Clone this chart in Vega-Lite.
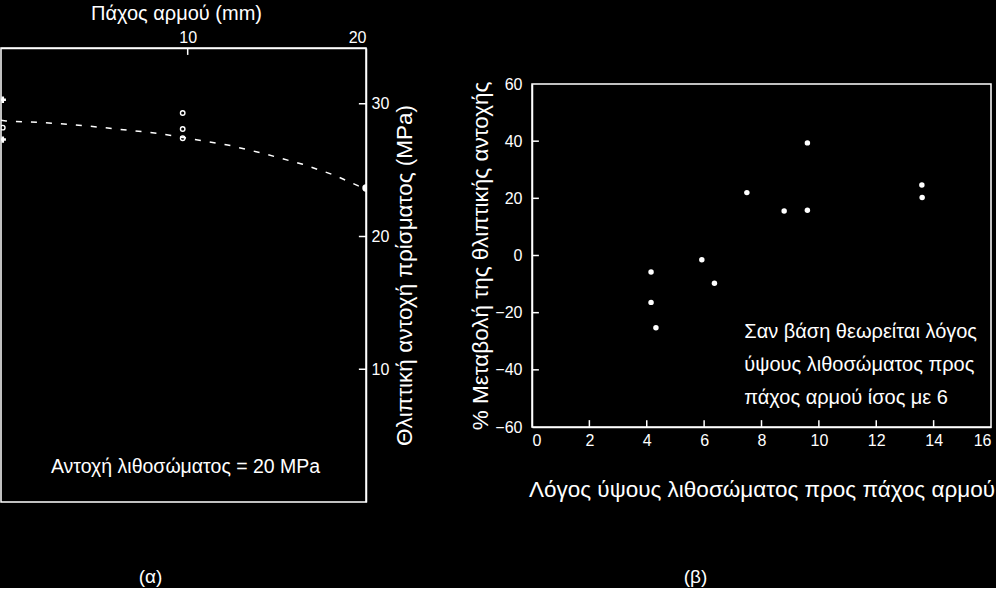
{
  "$schema": "https://vega.github.io/schema/vega-lite/v6.json",
  "background": "black",
  "padding": {"left": 0, "top": 2, "right": 0, "bottom": 0},
  "datasets": {
    "curve": [
      {"t": -0.47, "s": 28.75}, {"t": -0.19, "s": 28.7}, {"t": 1.59, "s": 28.6}, {"t": 3.36, "s": 28.45},
      {"t": 4.95, "s": 28.25}, {"t": 6.72, "s": 28.0}, {"t": 8.32, "s": 27.77}, {"t": 10, "s": 27.4},
      {"t": 12.24, "s": 26.9}, {"t": 14.3, "s": 26.24}, {"t": 16.45, "s": 25.44}, {"t": 18.19, "s": 24.64},
      {"t": 19.54, "s": 23.83}, {"t": 20, "s": 23.65}
    ],
    "alpha_filled": [
      {"t": -0.37, "s": 30.3, "kind": "cross"},
      {"t": -0.37, "s": 27.3, "kind": "cross"},
      {"t": 20, "s": 23.65, "kind": "circle"}
    ],
    "alpha_open": [
      {"t": -0.37, "s": 28.2},
      {"t": 9.72, "s": 29.3},
      {"t": 9.72, "s": 28.1},
      {"t": 9.72, "s": 27.4}
    ],
    "alpha_xticks": [{"v": 10, "a": 34.2, "b": 33.68}],
    "alpha_yticks": [{"v": 10, "a": 20, "b": 19.6}, {"v": 20, "a": 20, "b": 19.6}, {"v": 30, "a": 20, "b": 19.6}],
    "beta_xticks": [{"v": 2, "a": -60, "b": -57.6}, {"v": 4, "a": -60, "b": -57.6}, {"v": 6, "a": -60, "b": -57.6}, {"v": 8, "a": -60, "b": -57.6}, {"v": 10, "a": -60, "b": -57.6}, {"v": 12, "a": -60, "b": -57.6}, {"v": 14, "a": -60, "b": -57.6}],
    "beta_yticks": [{"v": -40, "a": 0, "b": 0.24}, {"v": -20, "a": 0, "b": 0.24}, {"v": 0, "a": 0, "b": 0.24}, {"v": 20, "a": 0, "b": 0.24}, {"v": 40, "a": 0, "b": 0.24}],
    "beta": [
      {"ratio": 4.15, "change": -5.8}, {"ratio": 4.15, "change": -16.4}, {"ratio": 4.32, "change": -25.3},
      {"ratio": 5.92, "change": -1.5}, {"ratio": 6.36, "change": -9.7}, {"ratio": 7.49, "change": 22.0},
      {"ratio": 8.79, "change": 15.6}, {"ratio": 9.6, "change": 15.8}, {"ratio": 9.6, "change": 39.4},
      {"ratio": 13.59, "change": 24.7}, {"ratio": 13.6, "change": 20.3}
    ]
  },
  "config": {
    "view": {"stroke": "white", "strokeWidth": 1.5},
    "axis": {
      "grid": false, "domainColor": "white", "labelColor": "white", "titleColor": "white",
      "labelFont": "Liberation Sans", "titleFont": "Liberation Sans", "titleFontWeight": "normal",
      "labelFontSize": 16, "titleFontSize": 22.5, "domainWidth": 1.5, "ticks": false
    },
    "text": {"color": "white", "font": "Liberation Sans"},
    "title": {"color": "white", "font": "Liberation Sans", "fontWeight": "normal", "fontSize": 19}
  },
  "spacing": 51,
  "hconcat": [
    {
      "width": 365,
      "height": 454,
      "title": {"text": "(α)", "orient": "bottom", "frame": "group", "anchor": "middle", "dx": -33, "offset": 66},
      "layer": [
        {
          "data": {"name": "curve"},
          "mark": {"type": "line", "strokeDash": [6, 9], "strokeWidth": 1.5, "color": "white", "clip": true},
          "encoding": {
            "x": {"field": "t", "type": "quantitative", "scale": {"domain": [-0.47, 20], "nice": false, "zero": false},
              "axis": {"orient": "top", "values": [10, 20], "labelPadding": 3, "title": "Πάχος αρμού (mm)", "titleFontSize": 20, "titlePadding": 6, "titleX": 175}},
            "y": {"field": "s", "type": "quantitative", "scale": {"domain": [0, 34.2], "nice": false},
              "axis": {"orient": "right", "values": [10, 20, 30], "labelPadding": 5, "title": "Θλιπτική αντοχή πρίσματος (MPa)", "titleAngle": 270, "titleBaseline": "top", "titlePadding": 5}}
          }
        },
        {
          "data": {"name": "alpha_xticks"},
          "mark": {"type": "rule", "stroke": "white", "strokeWidth": 1.5},
          "encoding": {
            "x": {"field": "v", "type": "quantitative"},
            "y": {"field": "a", "type": "quantitative"},
            "y2": {"field": "b"}
          }
        },
        {
          "data": {"name": "alpha_yticks"},
          "mark": {"type": "rule", "stroke": "white", "strokeWidth": 1.5},
          "encoding": {
            "y": {"field": "v", "type": "quantitative"},
            "x": {"field": "a", "type": "quantitative"},
            "x2": {"field": "b"}
          }
        },
        {
          "data": {"name": "alpha_filled"},
          "mark": {"type": "point", "filled": true, "color": "white", "opacity": 1, "clip": true},
          "encoding": {
            "x": {"field": "t", "type": "quantitative"},
            "y": {"field": "s", "type": "quantitative"},
            "shape": {"field": "kind", "type": "nominal", "scale": {"domain": ["cross", "circle"], "range": ["cross", "circle"]}, "legend": null},
            "size": {"field": "kind", "type": "nominal", "scale": {"domain": ["cross", "circle"], "range": [40, 55]}, "legend": null}
          }
        },
        {
          "data": {"name": "alpha_open"},
          "mark": {"type": "point", "filled": false, "color": "white", "size": 20, "strokeWidth": 1.4, "opacity": 1, "clip": true},
          "encoding": {
            "x": {"field": "t", "type": "quantitative"},
            "y": {"field": "s", "type": "quantitative"}
          }
        },
        {
          "data": {"values": [{"note": "Αντοχή λιθοσώματος = 20 MPa"}]},
          "mark": {"type": "text", "align": "left", "baseline": "middle", "fontSize": 19.5},
          "encoding": {
            "x": {"datum": 2.33},
            "y": {"datum": 2.63},
            "text": {"field": "note"}
          }
        }
      ]
    },
    {
      "spacing": 0,
      "vconcat": [
        {
          "width": 10,
          "height": 27,
          "data": {"values": [{}]},
          "mark": {"type": "point", "opacity": 0},
          "view": {"stroke": null}
        },
        {
          "width": 459,
          "height": 343,
          "title": {"text": "(β)", "orient": "bottom", "frame": "group", "anchor": "middle", "dx": -66, "offset": 67},
          "layer": [
            {
              "data": {"name": "beta"},
              "mark": {"type": "circle", "color": "white", "size": 30, "opacity": 1},
              "encoding": {
                "x": {"field": "ratio", "type": "quantitative", "scale": {"domain": [0, 16], "nice": false},
                  "axis": {"values": [0, 2, 4, 6, 8, 10, 12, 14, 16], "labelPadding": 5, "title": "Λόγος ύψους λιθοσώματος προς πάχος αρμού", "titlePadding": 30}},
                "y": {"field": "change", "type": "quantitative", "scale": {"domain": [-60, 60], "nice": false},
                  "axis": {"values": [-60, -40, -20, 0, 20, 40, 60], "labelPadding": 10, "title": "% Μεταβολή της θλιπτικής αντοχής", "titlePadding": 2}}
              }
            },
            {
              "data": {"name": "beta_xticks"},
              "mark": {"type": "rule", "stroke": "white", "strokeWidth": 1.5},
              "encoding": {
                "x": {"field": "v", "type": "quantitative"},
                "y": {"field": "a", "type": "quantitative"},
                "y2": {"field": "b"}
              }
            },
            {
              "data": {"name": "beta_yticks"},
              "mark": {"type": "rule", "stroke": "white", "strokeWidth": 1.5},
              "encoding": {
                "y": {"field": "v", "type": "quantitative"},
                "x": {"field": "a", "type": "quantitative"},
                "x2": {"field": "b"}
              }
            },
            {
              "data": {"values": [{"note": ["Σαν βάση θεωρείται λόγος", "ύψους λιθοσώματος προς", "πάχος αρμού ίσος με 6"]}]},
              "mark": {"type": "text", "align": "left", "baseline": "top", "fontSize": 20, "lineHeight": 33},
              "encoding": {
                "x": {"datum": 7.4},
                "y": {"datum": -23.3},
                "text": {"field": "note"}
              }
            }
          ]
        }
      ]
    }
  ]
}
